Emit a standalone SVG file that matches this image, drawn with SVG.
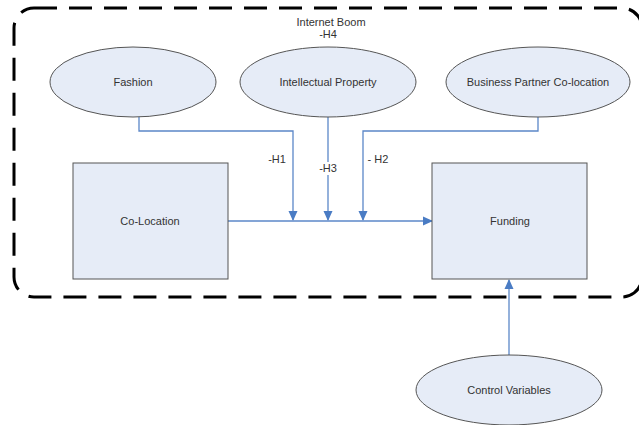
<svg xmlns="http://www.w3.org/2000/svg" width="639" height="425" viewBox="0 0 639 425">
<style>
.node{fill:#e6ecf7;stroke:#555;stroke-width:1}
.lbl{font-family:"Liberation Sans",Arial,sans-serif;font-size:11px;fill:#333;text-anchor:middle;dominant-baseline:central}
.con{fill:none;stroke:#5b87c8;stroke-width:1.3}
.boom{fill:none;stroke:#000;stroke-width:3;stroke-dasharray:23 12}
</style>
<defs>
<marker id="arr" markerWidth="10" markerHeight="10" refX="9" refY="5" orient="auto" markerUnits="userSpaceOnUse">
<path d="M0,0.5 L10,5 L0,9.5 Z" fill="#4a7cc4"/>
</marker>
</defs>
<g id="internet-boom">
<rect class="boom" x="14" y="8" width="628" height="289" rx="20" ry="20"/>
<text class="lbl" x="331" y="22">Internet Boom</text>
<text class="lbl" x="328" y="34">-H4</text>
</g>
<g id="connectors">
<polyline class="con" points="139,117 139,131 293,131 293,220" marker-end="url(#arr)"/>
<line class="con" x1="328" y1="117" x2="328" y2="220" marker-end="url(#arr)"/>
<polyline class="con" points="538,117 538,131 363,131 363,220" marker-end="url(#arr)"/>
<line class="con" x1="228" y1="221" x2="432" y2="221" marker-end="url(#arr)"/>
<line class="con" x1="509" y1="355" x2="509" y2="280" marker-end="url(#arr)"/>
<text class="lbl" x="277" y="159">-H1</text>
<rect x="317" y="162" width="22" height="13" fill="#fff"/>
<text class="lbl" x="328" y="168">-H3</text>
<text class="lbl" x="378" y="159">- H2</text>
</g>
<g id="fashion">
<ellipse class="node" cx="133" cy="82" rx="83" ry="35"/>
<text class="lbl" x="133" y="82">Fashion</text>
</g>
<g id="intellectual-property">
<ellipse class="node" cx="328" cy="82" rx="88" ry="35"/>
<text class="lbl" x="328" y="82">Intellectual Property</text>
</g>
<g id="business-partner">
<ellipse class="node" cx="538" cy="82" rx="92" ry="35"/>
<text class="lbl" x="538" y="82">Business Partner Co-location</text>
</g>
<g id="co-location">
<rect class="node" x="73" y="163" width="155" height="116"/>
<text class="lbl" x="150" y="221">Co-Location</text>
</g>
<g id="funding">
<rect class="node" x="432" y="163" width="155" height="116"/>
<text class="lbl" x="510" y="221">Funding</text>
</g>
<g id="control-variables">
<ellipse class="node" cx="509" cy="390" rx="93" ry="35"/>
<text class="lbl" x="509" y="390">Control Variables</text>
</g>
</svg>
